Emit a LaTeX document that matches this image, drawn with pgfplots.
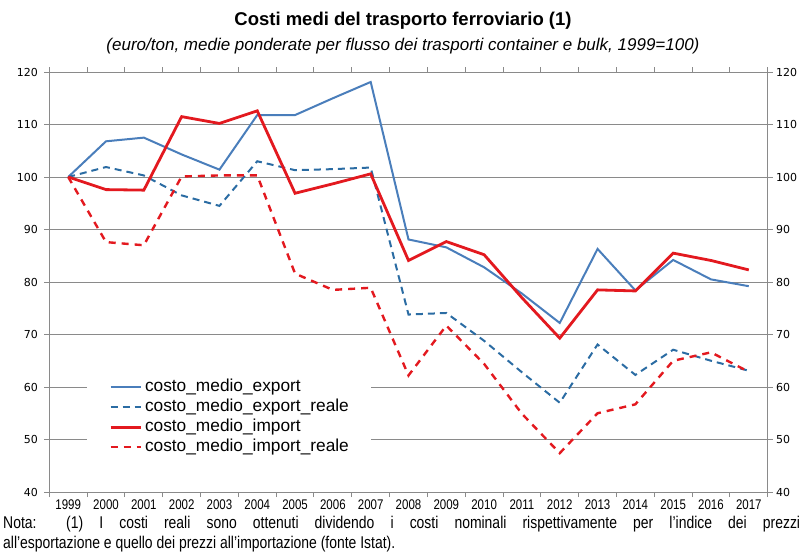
\documentclass[border=0pt]{standalone}
\usepackage{fontspec}
\usepackage{pgfplots}
\usepackage{pgfplotstable}
\pgfplotsset{compat=1.18}
\setmainfont{Liberation Sans}
\newfontfamily\narrowfont[FakeStretch=0.82]{Liberation Sans}
\newfontfamily\tickfont{DejaVu Sans}
\definecolor{expblue}{HTML}{4A7EBB}
\definecolor{expbluedash}{HTML}{2B6CA3}
\definecolor{impred}{HTML}{E3191F}
\definecolor{gridgray}{HTML}{8A8A8A}

\pgfplotstableread{
i  exp    expr   imp    impr
0  100.0  100.0  100.0  100.0
1  106.8  101.9  97.6   87.6
2  107.5  100.3  97.5   87.0
3  104.3  96.5   111.5  100.1
4  101.4  94.5   110.2  100.3
5  111.8  103.0  112.6  100.3
6  111.8  101.3  96.9   81.6
7  115.0  101.5  98.7   78.5
8  118.1  101.8  100.6  78.9
9  88.1   73.8   84.1   62.2
10 86.6   74.1   87.7   71.7
11 82.8   68.8   85.2   64.4
12 77.8   62.8   77.0   54.9
13 72.2   57.0   69.3   47.4
14 86.3   68.1   78.5   55.0
15 78.4   62.3   78.3   56.7
16 84.2   67.1   85.5   65.0
17 80.5   65.0   84.1   66.6
18 79.2   63.1   82.3   62.9
}\data

\begin{document}
\begin{tikzpicture}[x=1pt,y=1pt]
\useasboundingbox (0,0) rectangle (806,558);
\begin{axis}[
  at={(49.3pt,66pt)}, anchor=south west,
  scale only axis, width=718.4pt, height=420pt,
  xmin=-0.5, xmax=18.5, ymin=40, ymax=120,
  xtick={0,...,18},
  xticklabels={1999,2000,2001,2002,2003,2004,2005,2006,2007,2008,2009,2010,2011,2012,2013,2014,2015,2016,2017},
  major x tick style={draw=none},
  minor xtick={-0.5,0.5,...,18.5},
  minor tick length=5pt,
  ytick={40,50,...,120},
  ytick pos=left,
  tick align=outside,
  major tick length=5pt,
  ymajorgrids,
  grid style={gridgray, line width=1pt},
  axis line style={gridgray, line width=1pt},
  every tick/.style={gridgray, line width=1pt},
  x tick label style={font=\narrowfont\fontsize{14}{16}\selectfont, yshift=1pt},
  y tick label style={font=\tickfont\fontsize{11}{13}\selectfont, xshift=-3pt},
  /pgf/number format/assume math mode=true,
  legend cell align=left,
  legend style={at={(rel axis cs:0.0525,0.288)}, anchor=north west,
    draw=none, fill=white, inner xsep=22pt, inner ysep=8pt,
    font=\fontsize{17.3}{19}\selectfont,
    nodes={inner sep=0pt, text height=12pt, text depth=4pt},
    row sep=4pt,
    /tikz/every odd column/.append style={column sep=3pt}},
  legend image code/.code={\draw[#1] (0pt,0pt) -- (30pt,0pt);},
]
\addplot[expblue, line width=2pt] table[x=i, y=exp] {\data};
\addlegendentry{costo\_medio\_export}
\addplot[expbluedash, line width=2pt, dash pattern=on 7pt off 5pt] table[x=i, y=expr] {\data};
\addlegendentry{costo\_medio\_export\_reale}
\addplot[impred, line width=2.8pt] table[x=i, y=imp] {\data};
\addlegendentry{costo\_medio\_import}
\addplot[impred, line width=2.4pt, dash pattern=on 7pt off 6pt] table[x=i, y=impr] {\data};
\addlegendentry{costo\_medio\_import\_reale}
\end{axis}
\begin{axis}[
  at={(49.3pt,66pt)}, anchor=south west,
  scale only axis, width=718.4pt, height=420pt,
  xmin=-0.5, xmax=18.5, ymin=40, ymax=120,
  xtick=\empty,
  ytick={40,50,...,120},
  ytick pos=right, yticklabel pos=right,
  tick align=outside,
  major tick length=5pt,
  axis line style={draw=none},
  every tick/.style={gridgray, line width=1pt},
  y tick label style={font=\tickfont\fontsize{11}{13}\selectfont},
  /pgf/number format/assume math mode=true,
]
\end{axis}
\node[anchor=base, inner sep=0pt] at (403,532) {\fontsize{18.5}{22}\selectfont\bfseries Costi medi del trasporto ferroviario (1)};
\node[anchor=base, inner sep=0pt] at (403,507) {\fontsize{17}{20}\selectfont\itshape (euro/ton, medie ponderate per flusso dei trasporti container e bulk, 1999=100)};
\node[anchor=base west, inner sep=0pt] at (3,30) {\narrowfont\fontsize{17}{20}\selectfont\makebox[797pt][s]{Nota: (1) I costi reali sono ottenuti dividendo i costi nominali rispettivamente per l’indice dei prezzi}};
\node[anchor=base west, inner sep=0pt] at (3,10) {\narrowfont\fontsize{17}{20}\selectfont all’esportazione e quello dei prezzi all’importazione (fonte Istat).};
\end{tikzpicture}
\end{document}
